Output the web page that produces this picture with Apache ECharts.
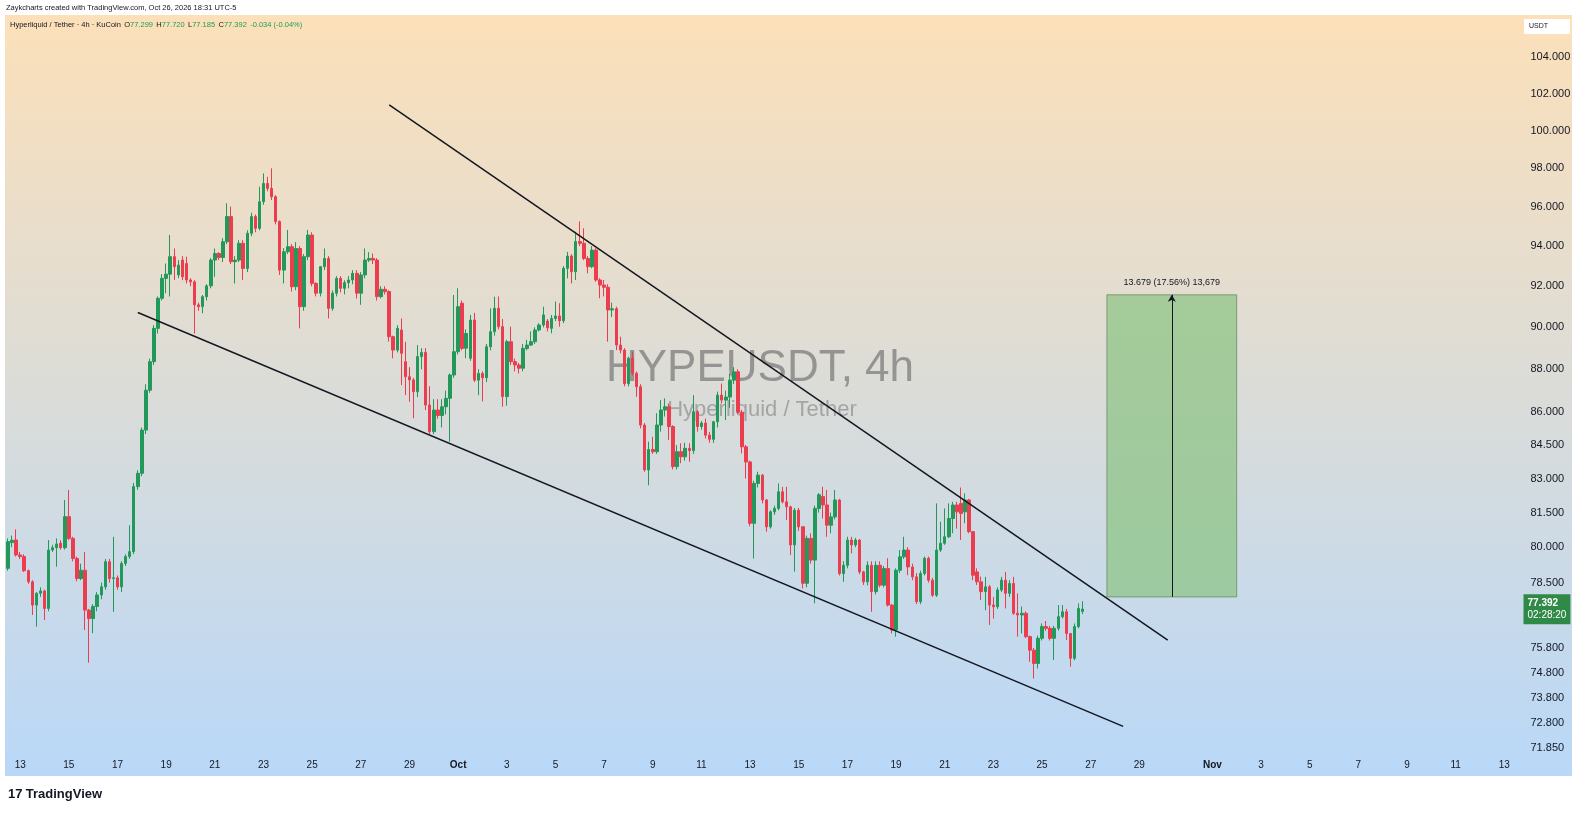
<!DOCTYPE html>
<html lang="en">
<head>
<meta charset="UTF-8">
<title>HYPEUSDT, 4h</title>
<style>
  html, body { margin: 0; padding: 0; background: #fff; }
  #main { width: 1580px; height: 813px; }
</style>
</head>
<body>
<div id="main"></div>
<script src="https://cdn.jsdelivr.net/npm/echarts@6/dist/echarts.min.js"></script>
<script>
// 4h candles, first one Sep 12 12:00, last one Oct 26 16:00
const opens = [
  79.10, 80.20, 80.31, 79.67, 79.60, 79.00, 78.53, 77.56, 78.05, 78.15,
  77.42, 79.88, 79.98, 80.17, 79.98, 81.32, 80.38, 79.52, 78.67, 79.02,
  77.35, 77.00, 77.50, 77.98, 78.32, 79.38, 78.67, 78.70, 78.32, 79.31,
  79.60, 79.81, 82.64, 83.23, 85.18, 87.02, 88.36, 89.95, 91.41, 92.39,
  92.60, 93.47, 92.56, 93.30, 93.13, 92.31, 92.22, 91.09, 91.00, 91.49,
  92.02, 93.30, 93.63, 93.43, 94.22, 95.50, 93.22, 93.30, 94.14, 92.88,
  94.65, 95.50, 94.90, 96.26, 97.21, 96.95, 96.52, 95.25, 92.80, 93.72,
  93.97, 91.98, 93.88, 91.00, 93.47, 94.56, 92.14, 91.66, 92.97, 93.38,
  90.92, 91.66, 92.39, 91.90, 92.18, 92.31, 92.64, 91.66, 92.56, 93.30,
  93.38, 93.30, 91.49, 91.85, 91.74, 89.55, 88.91, 89.87, 88.36, 87.65,
  87.50, 86.95, 88.60, 88.80, 86.33, 85.11, 86.10, 85.85, 86.25, 86.64,
  87.73, 88.83, 91.17, 89.00, 88.52, 90.35, 87.49, 87.80, 87.60, 89.07,
  89.79, 90.92, 90.03, 86.72, 89.31, 88.36, 88.20, 88.05, 88.99, 89.15,
  89.31, 89.87, 90.11, 90.30, 89.95, 90.43, 90.55, 90.32, 92.89, 93.50,
  92.72, 94.23, 94.14, 93.38, 92.97, 93.80, 92.31, 92.06, 91.95, 90.84,
  90.90, 89.15, 88.91, 87.33, 88.52, 87.81, 87.18, 85.41, 83.38, 84.30,
  84.20, 85.41, 86.10, 86.25, 85.34, 83.53, 84.20, 83.97, 84.35, 84.25,
  86.02, 85.34, 85.50, 84.95, 84.76, 85.56, 86.79, 86.56, 86.70, 87.49,
  87.88, 86.00, 84.42, 83.74, 81.03, 82.78, 83.15, 82.05, 80.88, 81.53,
  81.68, 82.41, 81.97, 81.75, 80.10, 81.60, 80.88, 78.47, 80.38, 79.45,
  81.68, 82.20, 81.83, 80.95, 81.31, 82.05, 78.88, 79.23, 80.31, 80.10,
  80.31, 78.95, 78.53, 79.23, 78.12, 79.23, 78.39, 79.09, 77.56, 76.53,
  79.02, 79.59, 79.88, 79.16, 78.74, 77.70, 78.88, 79.53, 78.60, 77.97,
  79.88, 80.17, 80.45, 81.24, 81.83, 81.90, 81.53, 82.05, 80.67, 78.95,
  78.53, 78.12, 78.32, 77.56, 77.49, 78.19, 78.60, 78.05, 78.46, 77.22,
  77.15, 77.22, 76.26, 75.71, 75.17, 76.19, 76.67, 76.60, 76.19, 76.60,
  77.08, 77.28, 76.39, 75.38, 76.67, 77.299
];
const highs = [
  80.38, 80.50, 80.77, 79.80, 79.70, 79.05, 78.60, 78.10, 78.30, 78.20,
  80.31, 80.10, 80.38, 80.30, 82.05, 82.49, 80.45, 79.60, 79.30, 79.80,
  77.40, 77.60, 78.10, 78.50, 79.50, 79.50, 80.45, 78.80, 79.40, 79.70,
  80.95, 82.80, 83.37, 85.30, 87.30, 88.50, 90.10, 91.50, 92.60, 93.13,
  94.56, 93.88, 93.30, 93.50, 93.47, 92.40, 92.30, 91.20, 91.57, 92.10,
  93.40, 93.88, 93.70, 94.40, 96.18, 96.01, 93.50, 94.30, 94.30, 94.80,
  95.70, 95.60, 97.04, 97.73, 97.56, 98.00, 96.60, 95.30, 93.90, 94.82,
  94.10, 94.20, 94.00, 93.60, 94.82, 94.70, 92.20, 93.00, 93.88, 93.50,
  91.80, 92.50, 92.50, 92.30, 92.50, 92.80, 92.80, 92.70, 93.88, 93.70,
  93.63, 93.40, 92.00, 92.00, 91.80, 89.60, 90.10, 90.43, 89.30, 88.10,
  87.60, 89.15, 89.00, 89.00, 87.20, 86.60, 86.60, 86.60, 87.00, 87.80,
  91.57, 91.90, 91.30, 89.90, 90.60, 90.70, 88.00, 87.90, 89.20, 90.92,
  91.49, 91.50, 90.40, 89.40, 90.03, 88.50, 88.30, 89.20, 89.40, 89.80,
  90.00, 90.20, 91.00, 90.40, 90.60, 91.25, 91.17, 93.00, 93.71, 93.60,
  94.73, 95.25, 94.90, 93.50, 94.00, 93.90, 92.40, 92.31, 92.10, 91.20,
  91.00, 89.55, 89.00, 88.60, 88.83, 87.90, 87.30, 85.50, 84.65, 84.88,
  85.95, 86.56, 86.64, 86.40, 85.40, 84.50, 84.58, 84.60, 84.58, 86.79,
  86.10, 85.60, 85.70, 85.10, 85.60, 86.95, 87.33, 87.00, 87.80, 88.10,
  88.00, 86.10, 84.50, 83.80, 82.90, 83.30, 83.20, 82.10, 81.60, 81.80,
  82.78, 82.63, 82.63, 81.80, 81.70, 81.70, 80.90, 80.50, 80.60, 81.80,
  82.35, 82.63, 82.49, 81.50, 82.49, 82.10, 79.40, 80.45, 80.45, 80.40,
  80.35, 79.00, 79.40, 79.40, 79.40, 79.40, 79.20, 79.53, 77.60, 79.10,
  79.88, 80.45, 80.00, 79.30, 78.90, 79.00, 79.60, 79.60, 78.70, 81.90,
  81.10, 81.68, 81.90, 81.97, 81.97, 82.60, 82.34, 82.10, 80.70, 79.10,
  78.75, 78.74, 78.40, 77.90, 78.30, 78.74, 78.95, 78.60, 78.74, 78.05,
  77.50, 77.30, 76.30, 75.80, 76.30, 76.80, 76.90, 76.70, 76.70, 77.56,
  77.56, 77.40, 76.40, 76.80, 77.63, 77.72
];
const lows = [
  79.00, 80.00, 79.60, 79.50, 78.95, 78.45, 77.15, 76.67, 77.90, 76.94,
  77.30, 79.80, 79.17, 79.90, 79.90, 80.30, 79.40, 78.55, 78.60, 76.53,
  75.20, 76.40, 77.30, 77.80, 78.20, 78.50, 77.28, 78.20, 78.10, 79.20,
  79.50, 79.70, 82.50, 83.10, 85.00, 86.90, 88.20, 89.70, 91.30, 91.66,
  91.50, 92.31, 92.40, 92.30, 92.14, 92.00, 89.70, 90.80, 90.68, 91.30,
  91.90, 92.47, 93.30, 93.20, 94.10, 93.10, 92.14, 93.20, 92.31, 92.70,
  94.50, 94.70, 94.80, 96.10, 96.80, 96.35, 95.10, 92.56, 92.14, 93.60,
  91.74, 91.80, 89.95, 90.80, 93.30, 92.00, 91.50, 91.50, 92.80, 90.43,
  90.80, 91.50, 91.70, 91.60, 91.90, 92.10, 91.40, 91.09, 92.40, 93.20,
  93.10, 91.30, 91.40, 91.60, 89.31, 88.52, 88.80, 87.26, 86.79, 86.48,
  85.72, 86.70, 88.00, 86.10, 85.00, 85.00, 85.70, 85.30, 85.90, 84.65,
  87.60, 88.70, 88.90, 88.52, 88.40, 87.40, 86.79, 86.50, 87.40, 88.90,
  89.60, 89.90, 86.25, 86.30, 88.20, 87.90, 87.80, 87.90, 88.90, 89.10,
  89.20, 89.80, 90.00, 89.80, 89.71, 90.30, 90.03, 90.20, 92.39, 92.14,
  92.31, 94.00, 93.30, 92.64, 92.89, 92.22, 91.41, 91.50, 89.31, 90.50,
  88.91, 88.75, 87.20, 87.20, 87.70, 86.72, 85.26, 83.30, 82.70, 84.10,
  84.10, 85.11, 85.80, 84.73, 83.40, 83.40, 83.68, 83.80, 83.74, 84.10,
  85.11, 85.20, 84.80, 84.60, 84.60, 85.30, 86.40, 85.64, 86.20, 87.30,
  85.90, 84.12, 83.00, 80.90, 79.52, 82.60, 81.90, 80.67, 80.80, 81.40,
  81.60, 81.90, 81.17, 79.67, 78.96, 80.70, 78.25, 78.30, 79.30, 77.63,
  81.50, 81.24, 80.45, 80.60, 81.20, 78.80, 78.53, 79.10, 79.74, 80.00,
  78.85, 78.40, 78.38, 77.28, 78.00, 78.30, 78.30, 77.50, 76.39, 76.26,
  78.90, 79.50, 78.81, 78.60, 77.60, 77.60, 78.80, 78.50, 77.90, 77.90,
  79.80, 80.10, 80.40, 80.60, 80.80, 80.31, 81.03, 80.60, 78.60, 78.40,
  77.77, 77.35, 76.74, 77.00, 77.40, 78.10, 77.42, 77.90, 77.15, 76.26,
  76.39, 76.20, 75.24, 74.57, 74.97, 76.10, 76.50, 76.10, 75.31, 76.50,
  77.00, 76.12, 75.04, 75.30, 76.60, 77.185
];
const closes = [
  80.24, 80.30, 79.67, 79.60, 79.00, 78.53, 77.56, 78.05, 78.15, 77.42,
  79.88, 79.98, 80.14, 79.98, 81.32, 80.38, 79.52, 78.67, 79.02, 77.35,
  77.00, 77.50, 77.98, 78.32, 79.38, 78.67, 78.70, 78.32, 79.31, 79.60,
  79.81, 82.64, 83.23, 85.18, 87.02, 88.36, 89.95, 91.41, 92.39, 92.60,
  93.47, 92.97, 93.05, 92.47, 92.31, 92.22, 91.09, 91.00, 91.49, 92.02,
  93.30, 93.63, 93.43, 94.22, 95.50, 93.22, 93.30, 94.14, 92.88, 94.65,
  95.50, 94.90, 96.26, 97.21, 96.95, 96.52, 95.25, 92.80, 93.72, 93.97,
  91.98, 93.88, 91.00, 93.47, 94.56, 92.14, 91.66, 92.97, 93.38, 90.92,
  91.66, 92.39, 91.90, 92.18, 92.31, 92.64, 91.66, 92.56, 93.30, 93.38,
  93.30, 91.49, 91.85, 91.74, 89.55, 88.91, 89.95, 88.76, 87.65, 87.50,
  86.95, 88.60, 88.80, 86.33, 85.11, 86.10, 85.85, 86.25, 86.64, 87.73,
  88.83, 91.00, 88.99, 89.70, 90.35, 87.49, 87.80, 87.60, 89.07, 89.79,
  90.92, 90.03, 86.72, 89.31, 88.36, 88.20, 88.05, 88.99, 89.15, 89.31,
  89.87, 90.11, 90.60, 89.98, 90.43, 90.55, 90.32, 92.89, 93.50, 92.72,
  94.23, 94.14, 93.38, 92.97, 93.80, 92.31, 92.06, 91.95, 90.84, 90.90,
  89.15, 88.91, 87.33, 88.52, 87.81, 87.18, 85.41, 83.38, 84.30, 84.20,
  85.41, 86.10, 86.25, 85.34, 83.53, 84.20, 83.97, 84.35, 84.25, 86.02,
  85.34, 85.50, 84.95, 84.76, 85.56, 86.79, 86.56, 86.70, 87.49, 87.88,
  86.00, 84.42, 83.74, 81.03, 82.78, 83.15, 82.05, 80.88, 81.53, 81.68,
  82.41, 81.97, 81.75, 80.10, 81.60, 80.88, 78.47, 80.38, 79.45, 81.68,
  82.28, 81.83, 80.95, 81.31, 82.05, 78.88, 79.23, 80.31, 80.10, 80.31,
  78.95, 78.53, 79.23, 78.12, 79.23, 78.39, 79.09, 77.56, 76.53, 79.02,
  79.59, 79.88, 79.16, 78.74, 77.70, 78.88, 79.53, 78.60, 77.97, 79.88,
  80.17, 80.45, 81.24, 81.83, 81.53, 81.46, 82.05, 80.67, 78.81, 78.53,
  78.12, 78.32, 77.56, 77.49, 78.19, 78.60, 78.05, 78.46, 77.22, 77.15,
  77.22, 76.26, 75.71, 75.17, 76.19, 76.67, 76.60, 76.19, 76.60, 77.08,
  77.28, 76.39, 75.38, 76.67, 77.42, 77.392
];

// price scale labels on the right
const priceTicks = [104, 102, 100, 98, 96, 94, 92, 90, 88, 86, 84.5, 83, 81.5, 80, 78.5, 75.8, 74.8, 73.8, 72.8, 71.85];

// date labels (day at 00:00)
const tickDates = ['09-13', '09-15', '09-17', '09-19', '09-21', '09-23', '09-25', '09-27', '09-29',
  '10-01', '10-03', '10-05', '10-07', '10-09', '10-11', '10-13', '10-15', '10-17', '10-19', '10-21',
  '10-23', '10-25', '10-27', '10-29', '11-01', '11-03', '11-05', '11-07', '11-09', '11-11', '11-13'];
const tickLabels = ['13', '15', '17', '19', '21', '23', '25', '27', '29',
  'Oct', '3', '5', '7', '9', '11', '13', '15', '17', '19', '21',
  '23', '25', '27', '29', 'Nov', '3', '5', '7', '9', '11', '13'];

// drawings: [slot index, price]
const upperTrend = [[94, 101.39], [286, 76.12]];
const lowerTrend = [[32, 90.72], [275, 72.68]];
const targetZone = [[271, 91.579], [303, 77.9]];
const targetArrow = [[287, 77.9], [287, 91.579]];
const lastPrice = 77.392;

// 4h slots from Sep 12 12:00 to mid November (empty to the right)
const slotCount = 373;
const startTime = Date.UTC(2026, 8, 12, 12);
const categories = [];
for (let k = 0; k < slotCount; k++) {
  const d = new Date(startTime + k * 4 * 3600 * 1000);
  const mm = String(d.getUTCMonth() + 1).padStart(2, '0');
  const dd = String(d.getUTCDate()).padStart(2, '0');
  const hh = String(d.getUTCHours()).padStart(2, '0');
  categories.push(mm + '-' + dd + ' ' + hh + ':00');
}

const candles = opens.map((o, i) => [o, closes[i], lows[i], highs[i]]);

const upColor = '#22995a';
const downColor = '#ec3d4f';
const textColor = '#131722';
const font = 'Liberation Sans, Arial, sans-serif';

var myChart = echarts.init(document.getElementById('main'));
var option = {
  animation: false,
  backgroundColor: '#ffffff',
  grid: {
    left: 6,
    top: 16,
    width: 1512.5,
    height: 736
  },
  xAxis: {
    type: 'category',
    data: categories,
    boundaryGap: true,
    axisLine: { show: false },
    axisTick: { show: false },
    splitLine: { show: false },
    axisLabel: {
      margin: 8,
      fontSize: 10,
      color: textColor,
      fontFamily: font,
      interval: (idx, val) => val.endsWith('00:00') && tickDates.indexOf(val.slice(0, 5)) >= 0,
      formatter: val => {
        const t = tickLabels[tickDates.indexOf(val.slice(0, 5))];
        return /^[A-Z]/.test(t) ? '{b|' + t + '}' : t;
      },
      rich: { b: { fontWeight: 'bold', fontSize: 10, color: textColor, fontFamily: font } }
    }
  },
  yAxis: {
    type: 'log',
    logBase: 10,
    position: 'right',
    min: 71.69,
    max: 106.33,
    axisLine: { show: false },
    axisTick: { show: false },
    splitLine: { show: false },
    axisLabel: {
      customValues: priceTicks,
      formatter: v => Number(v).toFixed(3),
      margin: 12,
      fontSize: 11,
      color: textColor,
      fontFamily: font
    }
  },
  series: [{
    type: 'candlestick',
    data: candles,
    barWidth: 3,
    itemStyle: {
      color: upColor,
      color0: downColor,
      borderColor: upColor,
      borderColor0: downColor,
      borderWidth: 1
    },
    markArea: {
      silent: true,
      itemStyle: {
        color: 'rgba(140, 196, 132, 0.72)',
        borderColor: 'rgba(110, 140, 105, 0.8)',
        borderWidth: 1
      },
      data: [[{ coord: targetZone[0] }, { coord: targetZone[1] }]]
    },
    markLine: {
      silent: true,
      symbol: ['none', 'none'],
      label: { show: false },
      data: [
        [{ coord: upperTrend[0], lineStyle: { color: '#131722', width: 1.5, type: 'solid' } },
         { coord: upperTrend[1] }],
        [{ coord: lowerTrend[0], lineStyle: { color: '#131722', width: 1.5, type: 'solid' } },
         { coord: lowerTrend[1] }],
        [{
          coord: targetArrow[0],
          lineStyle: { color: '#131722', width: 1, type: 'solid' },
          label: {
            show: true,
            position: 'end',
            distance: 8,
            formatter: '13.679 (17.56%) 13,679',
            color: textColor,
            fontSize: 9,
            fontFamily: font
          }
        }, { coord: targetArrow[1], symbol: 'arrow', symbolSize: [6, 7] }]
      ]
    }
  }, {
    // carries the last price tag on the price scale
    type: 'line',
    data: [],
    silent: true,
    markLine: {
      silent: true,
      symbol: ['none', 'none'],
      lineStyle: { color: 'rgba(0,0,0,0)', width: 1 },
      label: {
        show: true,
        position: 'end',
        distance: 5,
        opacity: 1,
        backgroundColor: '#2f8a47',
        padding: [3, 4, 3, 4],
        formatter: '{a|77.392}\n{b|02:28:20}',
        rich: {
          a: { color: '#ffffff', fontSize: 10, fontWeight: 'bold', fontFamily: font, lineHeight: 12 },
          b: { color: '#ffffff', fontSize: 10, fontFamily: font, lineHeight: 12 }
        }
      },
      data: [{ yAxis: lastPrice }]
    }
  }],
  graphic: [
    {
      type: 'rect',
      z: -10,
      shape: { x: 5, y: 15, width: 1567, height: 761 },
      style: {
        fill: new echarts.graphic.LinearGradient(0, 0, 0, 1, [
          { offset: 0, color: '#fce0b9' },
          { offset: 1, color: '#b9d8f8' }
        ])
      },
      silent: true
    },
    {
      type: 'text',
      x: 760, y: 369, z: -5,
      style: {
        text: 'HYPEUSDT, 4h',
        align: 'center', verticalAlign: 'middle',
        fontSize: 44, fontFamily: font,
        fill: 'rgba(100, 100, 100, 0.6)'
      },
      silent: true
    },
    {
      type: 'text',
      x: 762, y: 410, z: -5,
      style: {
        text: 'Hyperliquid / Tether',
        align: 'center', verticalAlign: 'middle',
        fontSize: 22, fontFamily: font,
        fill: 'rgba(110, 110, 110, 0.5)'
      },
      silent: true
    },
    {
      type: 'text',
      x: 6, y: 8,
      style: {
        text: 'Zaykcharts created with TradingView.com, Oct 26, 2026 18:31 UTC-5',
        verticalAlign: 'middle',
        fontSize: 7.5, fontFamily: font, fill: textColor
      }
    },
    {
      type: 'text',
      x: 10, y: 25,
      style: {
        text: '{t|Hyperliquid / Tether · 4h · KuCoin} {t|O}{v|77.299} {t|H}{v|77.720} {t|L}{v|77.185} {t|C}{v|77.392} {v|-0.034 (-0.04%)}',
        verticalAlign: 'middle',
        rich: {
          t: { fontSize: 7.5, fontFamily: font, fill: textColor },
          v: { fontSize: 7.5, fontFamily: font, fill: '#1f9d55' }
        }
      }
    },
    {
      type: 'group',
      children: [
        {
          type: 'rect',
          shape: { x: 1524, y: 19, width: 46, height: 15 },
          style: { fill: '#ffffff' }
        },
        {
          type: 'text',
          x: 1529, y: 26.5,
          style: { text: 'USDT', verticalAlign: 'middle', fontSize: 7, fontFamily: font, fill: textColor }
        }
      ]
    },
    {
      type: 'text',
      x: 8, y: 794,
      style: {
        text: '{l|17} {n|TradingView}',
        verticalAlign: 'middle',
        rich: {
          l: { fontSize: 13, fontWeight: 'bold', fontFamily: font, fill: '#131722' },
          n: { fontSize: 13, fontWeight: 'bold', fontFamily: font, fill: '#131722' }
        }
      }
    }
  ]
};

myChart.setOption(option);

window.onresize = function () {
  myChart.resize();
};
</script>
</body>
</html>
